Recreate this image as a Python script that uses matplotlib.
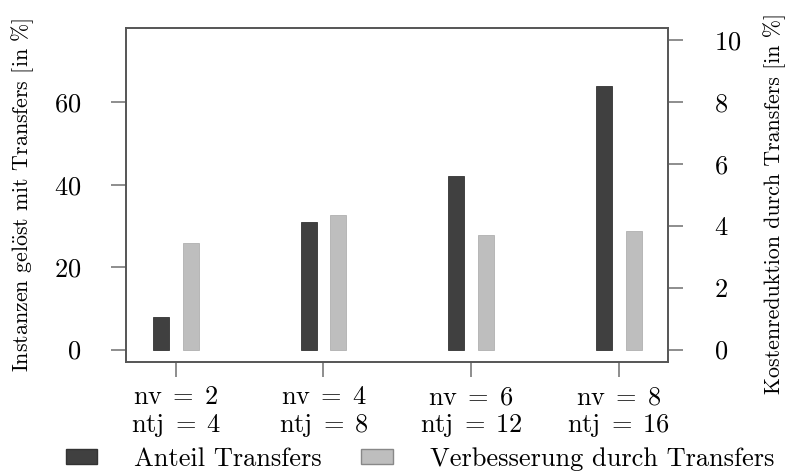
import matplotlib
matplotlib.use("Agg")
import matplotlib.pyplot as plt
import numpy as np
from matplotlib.patches import Patch

plt.rcParams['font.family'] = ['cmr10', 'DejaVu Serif']
plt.rcParams['mathtext.fontset'] = 'cm'
plt.rcParams['axes.formatter.use_mathtext'] = True

nv = [2, 4, 6, 8]
ntj = [4, 8, 12, 16]
anteil = [8, 31, 42, 64]                 # Instanzen gelöst mit Transfers [%]
verbesserung = [3.45, 4.35, 3.72, 3.83]  # Kostenreduktion [%]

groups = [r"$\mathrm{nv}\;=\;%d$" "\n" r"$\mathrm{ntj}\;=\;%d$" % (a, b) for a, b in zip(nv, ntj)]

dark = "#404040"
light = "#bebebe"
tick_col = "#7a7a7a"
fs = 19

fig = plt.figure(figsize=(7.91, 4.74), dpi=100)
ax = fig.add_axes([126/791, 1 - 362/474, 542/791, 334/474])
ax2 = ax.twinx()

x = np.arange(1, len(groups) + 1)
w = 0.108
off = 0.1
ax.bar(x - off, anteil, w, color=dark, edgecolor="#333333", linewidth=0.6)
ax2.bar(x + off, verbesserung, w, color=light, edgecolor="#b0b0b0", linewidth=0.6)

ax.set_xlim(0.663, 4.333)
ax.set_ylim(-3, 78)
ax2.set_ylim(-0.4, 10.4)
ax.set_yticks([0, 20, 40, 60])
ax2.set_yticks([0, 2, 4, 6, 8, 10])
ax.set_xticks(x)
ax.set_xticklabels(groups, linespacing=1.15)

for a in (ax, ax2):
    for s in a.spines.values():
        s.set_color("#555555")
        s.set_linewidth(1.2)
    a.tick_params(length=11, width=1.2, color=tick_col, labelsize=fs, pad=4)
ax.tick_params(axis="y", pad=21)
ax2.tick_params(axis="y", pad=22)
ax.tick_params(axis="x", pad=6)

fig.text(23/791, 1 - 195/474, r"Instanzen gel$\ddot{\mathrm{o}}$st mit Transfers [in %]",
         rotation=90, ha="center", va="center", fontsize=15.8)
fig.text(775/791, 1 - 203/474, "Kostenreduktion durch Transfers [in %]",
         rotation=90, ha="center", va="center", fontsize=15.8)

handles = [Patch(facecolor=dark, edgecolor="#333333"),
           Patch(facecolor=light, edgecolor="#888888")]
fig.legend(handles, ["Anteil Transfers", "Verbesserung durch Transfers"],
           loc="center", bbox_to_anchor=(420/791, 1 - 459/474), ncol=2,
           frameon=False, fontsize=fs, handlelength=1.2, handleheight=0.55,
           handletextpad=1.4, columnspacing=1.5, borderpad=0)

fig.savefig("out.png", dpi=100)
